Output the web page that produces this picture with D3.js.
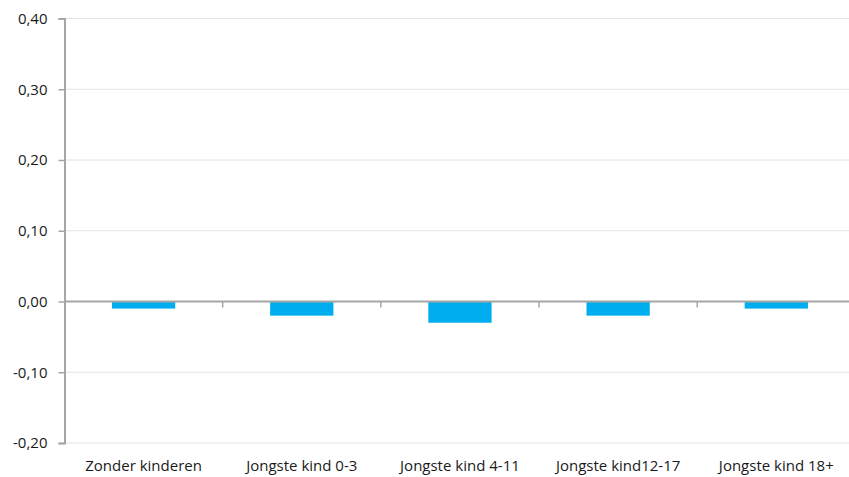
<!DOCTYPE html>
<html><head><meta charset="utf-8">
<script src="https://cdn.jsdelivr.net/npm/d3@7"></script>
<style>body{margin:0;background:#fff}svg{display:block}text{font-family:"Open Sans",sans-serif;fill:#1a1a1a}</style>
</head><body>
<svg id="c" width="849" height="477"></svg>
<script>
const categories = ["Zonder kinderen","Jongste kind 0-3","Jongste kind 4-11","Jongste kind12-17","Jongste kind 18+"];
const values = [-0.01,-0.02,-0.03,-0.02,-0.01];
const yTicks = [-0.20,-0.10,0.00,0.10,0.20,0.30,0.40];

(function(){
const svg = d3.select("#c");
const mLeft = 64.5, mRight = 855.4, mTop = 18.5, mBottom = 443;
const x = d3.scaleBand().domain(categories).range([mLeft,mRight]).paddingInner(0.6).paddingOuter(0.3);
const y = d3.scaleLinear().domain([-0.2,0.4]).range([mBottom,mTop]);
const fmt = d => d3.format(".2f")(d).replace(".",",").replace("−","-");

svg.append("g").selectAll("line").data(yTicks.filter(d=>d!==0)).join("line")
  .attr("x1",mLeft).attr("x2",849).attr("y1",d=>y(d)).attr("y2",d=>y(d))
  .attr("stroke","#e2e2e2").attr("stroke-width",1);

svg.append("g").selectAll("rect").data(values).join("rect")
  .attr("x",(d,i)=>x(categories[i])).attr("width",x.bandwidth())
  .attr("y",d=>y(Math.max(0,d))).attr("height",d=>Math.abs(y(d)-y(0)))
  .attr("fill","#00aeef");

const ya = svg.append("g").attr("transform",`translate(${mLeft},0)`)
  .call(d3.axisLeft(y).tickValues(yTicks).tickFormat(fmt).tickSize(6).tickPadding(11));
ya.select(".domain").attr("stroke","#a6a6a6").attr("stroke-width",2);
ya.selectAll(".tick line").attr("stroke","#a6a6a6").attr("stroke-width",1.5);
ya.selectAll(".tick text").attr("font-size",15).attr("font-family","Open Sans").attr("fill","#1a1a1a");

svg.append("line").attr("x1",mLeft).attr("x2",849).attr("y1",y(0)).attr("y2",y(0))
  .attr("stroke","#a6a6a6").attr("stroke-width",2);
const step = x.step();
svg.append("g").selectAll("line").data([1,2,3,4,5]).join("line")
  .attr("x1",d=>mLeft+d*step).attr("x2",d=>mLeft+d*step)
  .attr("y1",y(0)).attr("y2",y(0)+6)
  .attr("stroke","#a6a6a6").attr("stroke-width",1.5);

svg.append("g").selectAll("text").data(categories).join("text")
  .attr("x",d=>x(d)+x.bandwidth()/2).attr("y",471)
  .attr("text-anchor","middle").attr("font-size",15).text(d=>d);
})();
</script>
</body></html>
